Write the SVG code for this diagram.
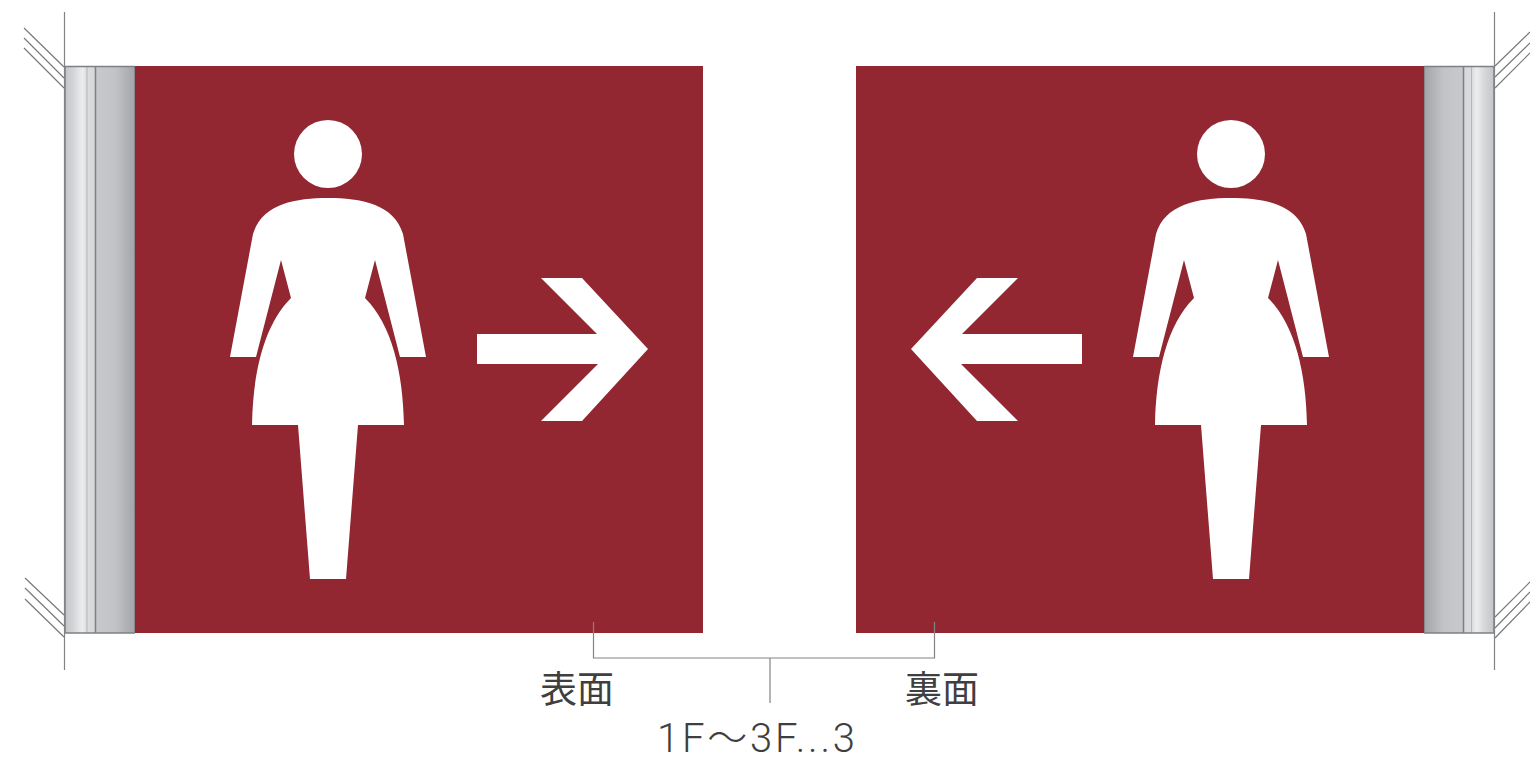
<svg xmlns="http://www.w3.org/2000/svg" xmlns:xlink="http://www.w3.org/1999/xlink" width="1530" height="761" viewBox="0 0 1530 761">
<style>
.panel{fill:#922732}
.glyph{fill:#fff}
.edge{fill:none;stroke:#7d8084;stroke-width:1.5}
.soft{fill:none;stroke:#b4b6b9;stroke-width:1}
.hatch{fill:none;stroke:#77797c;stroke-width:1.2}
.thin{fill:none;stroke:#818386;stroke-width:1.2}
.lbl{font-family:"Noto Sans CJK JP","Liberation Sans",sans-serif;font-size:37px;fill:#3f3f3f;font-weight:400}
.num{font-family:Roboto,"Liberation Sans","Noto Sans CJK JP",sans-serif;font-size:40px;fill:#3f3f3f;font-weight:300}
</style>
<defs>
<linearGradient id="bar" x1="0" x2="1" y1="0" y2="0">
<stop offset="0" stop-color="#c4c5c8"/><stop offset="0.12" stop-color="#d4d5d7"/><stop offset="0.25" stop-color="#eceded"/><stop offset="0.31" stop-color="#dcddde"/><stop offset="0.42" stop-color="#d6d7d9"/><stop offset="0.45" stop-color="#c8c9cb"/><stop offset="0.72" stop-color="#c2c3c6"/><stop offset="1" stop-color="#a2a4a7"/>
</linearGradient>
<g id="woman">
<circle class="glyph" cx="328" cy="154" r="34"/>
<path class="glyph" d="M328 198C295 198 262 204 253 234L230 357H256L281 260L291 298C264 325 253 372 252 425H298L310 579H346L358 425H404C403 372 392 325 365 298L375 260L400 357H426L403 234C394 204 361 198 328 198Z"/>
</g>
<path id="arrow" class="glyph" d="M477 334H597L541 278H582L648 349L582 421H541L598 364H477Z"/>
</defs>
<rect width="1530" height="761" fill="#fff"/>
<g id="left-sign">
<rect x="65" y="66" width="70" height="567" fill="url(#bar)"/>
<path class="soft" d="M87 66V633"/>
<path class="edge" d="M65 66.500H135M65 633H135M65 66V633M135 66V633M95.500 66V633"/>
<rect class="panel" x="135" y="66" width="568" height="567"/>
<use xlink:href="#woman" href="#woman"/>
<use xlink:href="#arrow" href="#arrow"/>
<path class="hatch" d="M24 28L64 67M24 38L64 78M24 48L64 88M25 578L64 615M25 588L64 626M25 599L64 637"/>
<path class="thin" d="M64.500 12V670"/>
</g>
<g id="right-sign">
<rect x="1424" y="66" width="70" height="567" fill="url(#bar)" transform="matrix(-1 0 0 1 2918 0)"/>
<path class="soft" d="M1471.500 66V633"/>
<path class="edge" d="M1424 66.500H1494M1424 633H1494M1494 66V633M1424 66V633M1463.500 66V633"/>
<rect class="panel" x="856" y="66" width="568" height="567"/>
<g transform="matrix(-1 0 0 1 1559 0)">
<use xlink:href="#woman" href="#woman"/>
<use xlink:href="#arrow" href="#arrow"/>
</g>
<path class="hatch" d="M1495 66L1530 32M1495 77L1530 43M1495 88L1530 53M1495 617L1530 582M1495 628L1530 592M1495 638L1530 602"/>
<path class="thin" d="M1494.500 12V670"/>
</g>
<g id="connectors">
<path class="thin" d="M593.500 622V658H934.500V622M770 658V703"/>
</g>
<g id="labels">
<text class="lbl" x="540" y="703">表面</text>
<text class="lbl" x="905" y="703">裏面</text>
<text class="num" x="657" y="752" textLength="198">1F～3F...3</text>
</g>
</svg>
